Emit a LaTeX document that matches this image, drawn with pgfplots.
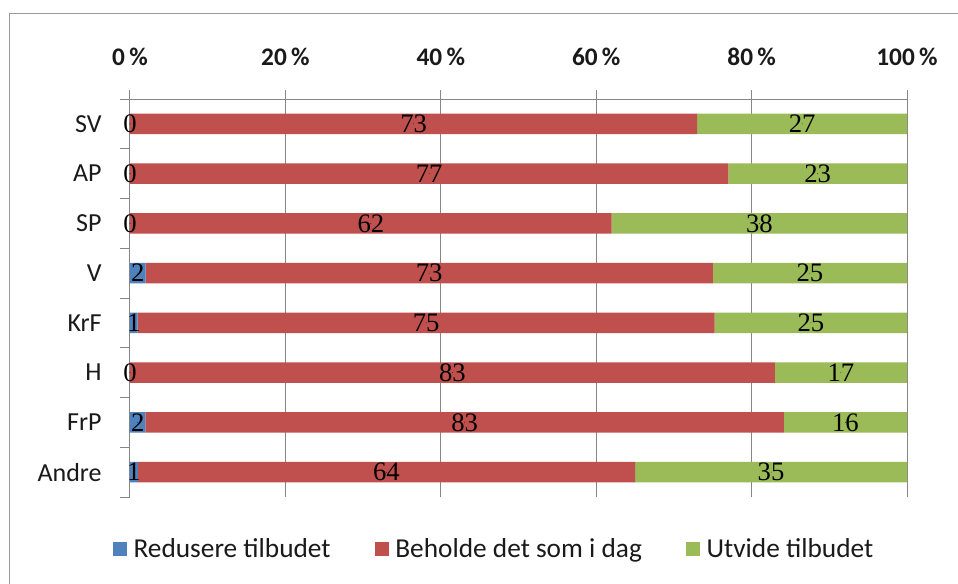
\documentclass[border=0pt]{standalone}
\usepackage{fontspec}
\setmainfont{Carlito}
\newfontfamily\numfont{Liberation Serif}
\usepackage{pgfplots}
\usepackage{pgfplotstable}
\pgfplotsset{compat=1.18}
\definecolor{cblue}{HTML}{4F81BD}
\definecolor{cred}{HTML}{C0504D}
\definecolor{cgreen}{HTML}{9BBB59}
\definecolor{axgray}{HTML}{868686}
\definecolor{txt}{HTML}{1A1A1A}

\pgfplotstableread{
y red   beh   utv   lr lb lu
0 0     73    27    0  73 27
1 0     77    23    0  77 23
2 0     62    38    0  62 38
3 2     73    25    2  73 25
4 0.99  74.26 24.75 1  75 25
5 0     83    17    0  83 17
6 1.98  82.18 15.84 2  83 16
7 1     64    35    1  64 35
}\data

\begin{document}
\begin{tikzpicture}[x=0.75pt,y=0.75pt]
\useasboundingbox (0,0) rectangle (958,583);
\fill[white] (0,0) rectangle (958,583);
\draw[color=gray!80, line width=0.75pt] (9,-5) -- (9,569) -- (965,569);
\begin{axis}[
  at={(97.5pt,64.5pt)}, anchor=south west,
  width=582.75pt, height=298.5pt, scale only axis,
  xbar stacked, bar width=15.5pt,
  xmin=0, xmax=100, ymin=-0.5, ymax=7.5, y dir=reverse,
  axis x line*=top, axis y line*=left,
  axis line style={color=axgray, line width=0.75pt},
  tick align=outside,
  xtick={0,20,40,60,80,100},
  xticklabels={0\,\%,20\,\%,40\,\%,60\,\%,80\,\%,100\,\%},
  xticklabel style={font=\bfseries\fontsize{19}{19}\selectfont, text=txt, yshift=15pt},
  major tick length=6.75pt,
  minor tick length=7.5pt,
  x tick style={color=axgray, line width=0.75pt},
  ytick={0,1,2,3,4,5,6,7},
  yticklabels={SV,AP,SP,V,KrF,H,FrP,Andre},
  minor ytick={-0.5,0.5,1.5,2.5,3.5,4.5,5.5,6.5,7.5},
  major y tick style={draw=none},
  minor y tick style={color=axgray, line width=0.75pt},
  yticklabel style={font=\fontsize{19.5}{19.5}\selectfont, text=txt, xshift=-11pt},
  xmajorgrids=true,
  major grid style={color=axgray, line width=0.75pt},
  /pgf/number format/assume math mode=true,
  legend columns=3,
  legend style={draw=none, fill=none, at={(rel axis cs:0.469,-0.1307)}, anchor=center,
    font=\fontsize{20.5}{20.5}\selectfont, text=txt,
    /tikz/every odd column/.append style={column sep=3pt},
    /tikz/every even column/.append style={column sep=31pt}},
  legend image code/.code={\fill[#1] (0pt,-5.25pt) rectangle (10.5pt,5.25pt);},
]
\addplot[fill=cblue, draw=none] table[x=red, y=y] \data;
\addlegendentry{Redusere tilbudet}
\addplot[fill=cred, draw=none] table[x=beh, y=y] \data;
\addlegendentry{Beholde det som i dag}
\addplot[fill=cgreen, draw=none] table[x=utv, y=y] \data;
\addlegendentry{Utvide tilbudet}
\end{axis}
\begin{axis}[
  at={(97.5pt,64.5pt)}, anchor=south west,
  width=582.75pt, height=298.5pt, scale only axis,
  xmin=0, xmax=100, ymin=-0.5, ymax=7.5, y dir=reverse,
  axis lines=none, clip=false,
  point meta=explicit symbolic,
  nodes near coords,
  every node near coord/.append style={anchor=center, font=\numfont\fontsize{20}{20}\selectfont, text=black},
]
\addplot[only marks, mark=*, mark size=0.01pt, mark options={draw=none,fill=none}]
  table[x expr=\thisrow{red}/2, y=y, meta=lr] \data;
\addplot[only marks, mark=*, mark size=0.01pt, mark options={draw=none,fill=none}]
  table[x expr=\thisrow{red}+\thisrow{beh}/2, y=y, meta=lb] \data;
\addplot[only marks, mark=*, mark size=0.01pt, mark options={draw=none,fill=none}]
  table[x expr=\thisrow{red}+\thisrow{beh}+\thisrow{utv}/2, y=y, meta=lu] \data;
\end{axis}
\end{tikzpicture}
\end{document}
